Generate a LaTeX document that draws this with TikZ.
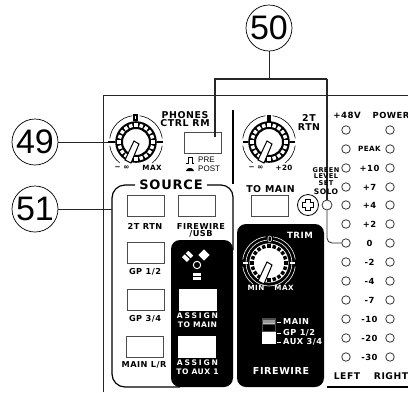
\documentclass[tikz,border=0pt]{standalone}
\usepackage{fontspec}
\setmainfont{DejaVu Sans}
\newfontfamily\callfont{Liberation Sans}
\newfontfamily\thinfont{Liberation Sans}
\newfontfamily\spaced[LetterSpace=6]{DejaVu Sans}
\newfontfamily\wider[LetterSpace=24]{DejaVu Sans}
\usetikzlibrary{positioning,calc}

\tikzstyle{callout} = [circle, draw, line width=0.7pt, minimum size=46pt, inner sep=0pt, font=\callfont\fontsize{34}{34}\selectfont]
\tikzstyle{leader} = [line width=0.8pt, draw=black!85]
\tikzstyle{bracket} = [line width=1.1pt, draw=black!85]
\tikzstyle{button} = [rectangle, draw=black!70, fill=white, line width=0.9pt, minimum width=37pt, minimum height=21pt, inner sep=0pt]
\tikzstyle{caption} = [inner sep=0pt, align=center, font=\spaced\bfseries\fontsize{8.2}{8}\selectfont]
\tikzstyle{whitecap} = [caption, text=white]
\tikzstyle{heading} = [caption, font=\spaced\bfseries\fontsize{9.4}{8.6}\selectfont]
\tikzstyle{rowtext} = [inner sep=0pt, font=\spaced\bfseries\fontsize{8.4}{9}\selectfont]
\tikzstyle{led} = [circle, draw=black!80, line width=0.8pt, fill=white, minimum size=8.5pt, inner sep=0pt]

% ring colour, cell colour, ring radius, centre
\newcommand{\knobdial}[4]{
	\begin{scope}[shift={(#4)}, x=1pt, y=1pt]
		\draw[#1, line width=0.6pt] (8:26.5) arc (8:82:26.5) (98:26.5) arc (98:172:26.5) (188:26.5) arc (188:232:26.5) (-8:26.5) arc (-8:-52:26.5);
		\fill[#1] (0,0) circle (#3);
		\foreach \ang in {0,18,...,342}
			\node[rectangle, fill=#2, minimum size=3.5pt, inner sep=0pt, rotate=\ang] at (\ang:16.9) {};
		\draw[#1, fill=white, line width=1pt] (0,0) circle (13.5);
		\draw[black, fill=white, line width=1pt] (-2,1) -- (3,-2) -- (-5,-21) -- (-11,-18) -- cycle;
	\end{scope}
}

\begin{document}
\begin{tikzpicture}[x=1pt, y=-1pt]
	\useasboundingbox (0,0) rectangle (408,392);

	%panel edge
	\draw[line width=1pt, black!85] (103,392) -- (103,95) -- (408,95);
	\draw[line width=1.4pt] (233,110) -- (233,184);
	\draw[line width=1.4pt] (327,387) -- (408,387);

	%source frame
	\draw[line width=1.2pt, rounded corners=13pt] (135,185) -- (112,185) -- (112,387) -- (180,387);
	\draw[line width=1.2pt, rounded corners=12pt] (207,185) -- (233,185) -- (233,250);
	\node[inner sep=0pt, font=\spaced\bfseries\fontsize{13}{13}\selectfont] (source) at (171,185) {SOURCE};

	%black panels
	\fill[black, rounded corners=9pt] (171,387) rectangle (233,240);
	\fill[black, rounded corners=9pt] (237,224) rectangle (324,387);

	%knobs
	\knobdial{black}{white}{20.8}{136,142}
	\knobdial{black}{white}{20.8}{269,142}
	\knobdial{white}{black}{19.6}{269,263}
	\draw[white, line width=0.6pt] (269,263) circle (23);
	\node[circle, minimum size=52pt, inner sep=0pt] (knobphones) at (136,142) {};
	\node[circle, minimum size=52pt, inner sep=0pt] (knobtrtn) at (269,142) {};
	\draw[line width=1.2pt] (108,142) -- (115,142) (157,142) -- (163,142) (134,115) rectangle (137,120);
	\draw[line width=1.2pt] (243,142) -- (248,142) (290,142) -- (295,142) (268,116) rectangle (270,121);
	\draw[line width=1.4pt, white] (243,263) -- (248,263) (290,263) -- (295,263);

	%knob texts
	\node[caption, font=\spaced\bfseries\fontsize{7.2}{8}\selectfont] (minphones) at (122,168) {− ∞};
	\node[caption, font=\spaced\bfseries\fontsize{7.2}{8}\selectfont] (maxphones) at (152,168) {MAX};
	\node[caption, font=\spaced\bfseries\fontsize{7.2}{8}\selectfont] (mintrtn) at (256,168) {− ∞};
	\node[caption, font=\spaced\bfseries\fontsize{7.2}{8}\selectfont] (maxtrtn) at (284,168) {+20};
	\node[whitecap, font=\spaced\bfseries\fontsize{7.2}{8}\selectfont] (mintrim) at (256,288) {MIN};
	\node[whitecap, font=\spaced\bfseries\fontsize{7.2}{8}\selectfont] (maxtrim) at (284,288) {MAX};
	\node[inner sep=0pt, text=white, fill=black, font=\thinfont\fontsize{9}{9}\selectfont] (zerotrim) at (270,239) {0};
	\node[whitecap, font=\spaced\bfseries\fontsize{8.6}{8}\selectfont] (trim) at (300,235) {TRIM};
	\node[heading] (phones) at (185,119) {PHONES\\CTRL RM};
	\node[heading] (trtn) at (309,122.5) {2T\\RTN};

	%buttons
	\node[button] (btnphones) at (202.5,142.5) {};
	\node[button] (btnmain) at (269.5,206) {};
	\node[button] (btntrtn) at (145.5,206) {};
	\node[button] (btnfire) at (196.5,206) {};
	\node[button] (btngpa) at (145.5,252.5) {};
	\node[button] (btngpb) at (145.5,299.5) {};
	\node[button] (btnlr) at (144.5,346.5) {};
	\node[button, draw=white] (btnassa) at (197.5,300) {};
	\node[button, draw=white] (btnassb) at (196.5,346.5) {};

	%button texts
	\node[caption] (lbltrtn) at (145,226) {2T RTN};
	\node[caption, font=\spaced\bfseries\fontsize{8.2}{7}\selectfont] (lblfire) at (201,230) {FIREWIRE\\/USB};
	\node[caption] (lblgpa) at (145,272) {GP 1/2};
	\node[caption] (lblgpb) at (145,319) {GP 3/4};
	\node[caption] (lbllr) at (144,365) {MAIN L/R};
	\node[whitecap, font=\spaced\bfseries\fontsize{7.6}{9}\selectfont] (lblassa) at (197.5,320.5) {{\wider\bfseries ASSIGN}\\TO MAIN};
	\node[whitecap, font=\spaced\bfseries\fontsize{7.6}{9}\selectfont] (lblassb) at (197.5,367.5) {{\wider\bfseries ASSIGN}\\TO AUX 1};
	\node[heading] (lbltomain) at (270.5,189) {TO MAIN};

	%pre post
	\draw[line width=0.8pt] (186,163) -- (188,163) -- (188,157.5) -- (192,157.5) -- (192,163) -- (194,163);
	\fill (186,171) -- (187,169) -- (189,168) -- (191,168) -- (193,169) -- (194,171) -- cycle;
	\node[inner sep=0pt, anchor=west, font=\thinfont\fontsize{8}{8}\selectfont] (pre) at (198,160) {PRE};
	\node[inner sep=0pt, anchor=west, font=\thinfont\fontsize{8}{8}\selectfont] (post) at (198,169) {POST};

	%firewire logo
	\draw[white, line width=1pt] (197,265) circle (3.7);
	\begin{scope}[shift={(188,256)}, rotate=45]
		\fill[white] (-5,-3.4) rectangle (-1.2,3.4);
		\fill[white] (0.2,-3.4) rectangle (4,3.4);
	\end{scope}
	\fill[white, rotate around={45:(204,255)}] (200,251) rectangle (208,259);
	\fill[white] (193,272.5) rectangle (201,275.5);
	\fill[white] (193,277) rectangle (201,280);

	%aux switch
	\fill[black!70] (262,318) rectangle (276,332);
	\fill[black!40] (263,320) rectangle (275,323);
	\fill[black!25] (263,323) rectangle (275,324);
	\fill[black] (263,325) rectangle (275,331);
	\fill[white] (262,332) rectangle (276,344);
	\draw[white, line width=0.8pt] (277,322) -- (281,322) (277,333) -- (281,333) (277,342) -- (281,342);
	\node[whitecap, anchor=west] (swmain) at (283,322) {MAIN};
	\node[whitecap, anchor=west] (swgp) at (283,333) {GP 1/2};
	\node[whitecap, anchor=west] (swaux) at (283,342) {AUX 3/4};
	\node[whitecap, font=\spaced\bfseries\fontsize{9.6}{8}\selectfont] (fire) at (281,371) {FIREWIRE};

	%meter
	\node[caption, font=\spaced\bfseries\fontsize{8.6}{8}\selectfont] (lbl48) at (347,115) {+48V};
	\node[caption, font=\spaced\bfseries\fontsize{8.4}{8}\selectfont] (lblpower) at (391,115) {POWER};
	\foreach \row/\txt [count=\i] in {130/{},149/{\fontsize{7.2}{8}\selectfont PEAK},168/+10,187/+7,205/+4,224/+2,243/0,262/-2,281/-4,300/-7,319/-10,338/-20,357/-30}
	{
		\node[led] (ledl\i) at (346,\row) {};
		\node[led] (ledr\i) at (390,\row) {};
		\node[rowtext] (row\i) at (369.5,\row) {\txt};
	}
	\node[caption, font=\spaced\bfseries\fontsize{9.2}{8}\selectfont] (left) at (347,376) {LEFT};
	\node[caption, font=\spaced\bfseries\fontsize{9.2}{8}\selectfont] (right) at (391,376) {RIGHT};

	%solo and plus
	\node[circle, draw, line width=0.8pt, minimum size=21pt, inner sep=0pt] (plus) at (308,205) {};
	\draw[line width=0.8pt] (305.5,199.5) -- (310.5,199.5) -- (310.5,202.5) -- (313.5,202.5) -- (313.5,207.5) -- (310.5,207.5) -- (310.5,210.5) -- (305.5,210.5) -- (305.5,207.5) -- (302.5,207.5) -- (302.5,202.5) -- (305.5,202.5) -- cycle;

	%callouts
	\node[callout] (c49) at (35,142) {49};
	\node[callout] (c50) at (269,28) {50};
	\node[callout] (c51) at (35,209) {51};
	\coordinate (brk) at (269,79);
	\coordinate (brkleft) at (215,79);
	\coordinate (brkright) at (327,79);
	\coordinate (endphones) at (215,137);
	\coordinate (frame) at (112,209);
	\coordinate (endknob) at (108,142);

	%edges
	\path[leader] (c49) -- (endknob);
	\path[leader] (c51) -- (frame);
	\path[leader] (c50) -- (brk);
	\path[bracket] (endphones) -- (brkleft) -- (brkright);
	\node[led, minimum size=10pt] (ledsolo) at (327,205) {};
	\path[bracket] (brkright) -- (ledsolo);
	\path[leader, rounded corners=5pt] (ledsolo) |- (ledl7);
	\node[caption, font=\spaced\bfseries\fontsize{6.6}{6.8}\selectfont] (lblgreen) at (326,176.5) {GREEN\\LEVEL\\SET};
	\node[caption, font=\spaced\bfseries\fontsize{7.6}{7}\selectfont] (lblsolo) at (326,192) {SOLO};
\end{tikzpicture}
\end{document}
